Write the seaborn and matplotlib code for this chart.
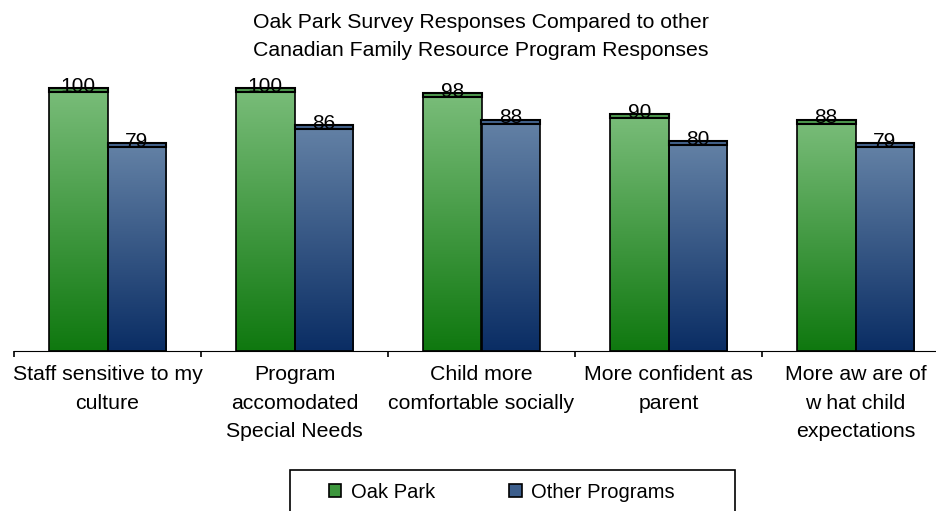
import pandas as pd
import seaborn as sns
import matplotlib.pyplot as plt
import numpy as np
from matplotlib.colors import LinearSegmentedColormap
from matplotlib.patches import Patch, Rectangle

categories = ["Staff sensitive to my\nculture",
              "Program\naccomodated\nSpecial Needs",
              "Child more\ncomfortable socially",
              "More confident as\nparent",
              "More aw are of\nw hat child\nexpectations"]
oak_park = [100, 100, 98, 90, 88]
other_programs = [79, 86, 88, 80, 79]
series = ["Oak Park", "Other Programs"]

df = pd.DataFrame({
    "item": categories * 2,
    "value": oak_park + other_programs,
    "program": [series[0]] * 5 + [series[1]] * 5,
})

sns.set_style("white")
plt.rcParams["font.family"] = ["Liberation Sans", "DejaVu Sans"]
plt.rcParams["text.color"] = "black"
plt.rcParams["xtick.color"] = "black"

# dark bottom -> light top
cmaps = [LinearSegmentedColormap.from_list("g", ["#0f780f", "#7abd7a"]),
         LinearSegmentedColormap.from_list("b", ["#0a2d64", "#6482a6"])]
caps = ["#4f9a4f", "#44648e"]
legend_cols = ["#3c963c", "#3c5e8c"]

fig = plt.figure(figsize=(9.37, 5.11), dpi=100)
ax = fig.add_axes([14 / 937, 160 / 511, 935 / 937, 289.3 / 511])

sns.barplot(data=df, x="item", y="value", hue="program", palette=["#3c963c", "#3c5e8c"],
            width=0.626, gap=0, ax=ax, legend=False, saturation=1)
ax.set_ylim(0, 110)
ax.set_xlim(-0.5, 4.5)

grad = np.linspace(0, 1, 256).reshape(-1, 1)
for cont, cm, cc in zip(ax.containers, cmaps, caps):
    for bar in cont:
        x, w, h = bar.get_x(), bar.get_width(), bar.get_height()
        bar.set_facecolor("none")
        bar.set_edgecolor("black")
        bar.set_linewidth(1.2)
        bar.set_zorder(3)
        im = ax.imshow(grad, cmap=cm, extent=[x, x + w, 0, h], origin="lower",
                       aspect="auto", zorder=2)
        im.set_clip_path(bar)
        ax.add_patch(Rectangle((x, h - 1.5), w, 1.5, facecolor=cc,
                               edgecolor="black", linewidth=1.5, zorder=4))
        ax.text(x + w / 2, h + 0.6, f"{h:.0f}", ha="center", va="center",
                fontsize=15, zorder=5)

for s in ["left", "top", "right"]:
    ax.spines[s].set_visible(False)
ax.spines["bottom"].set_color("black")
ax.set_yticks([])
ax.set_xlabel("")
ax.set_ylabel("")
ax.set_xticks(range(5))
ax.set_xticklabels(categories, fontsize=15.3, linespacing=1.65)
ax.set_xticks(np.arange(-0.5, 5, 1), minor=True)
ax.tick_params(axis="x", which="major", length=0, pad=10, bottom=True)
ax.tick_params(axis="x", which="minor", length=4, width=1.2, color="black",
               direction="out", bottom=True)

fig.text(481 / 937, 1 - 36 / 511,
         "Oak Park Survey Responses Compared to other\nCanadian Family Resource Program Responses",
         ha="center", va="center", fontsize=15.3, linespacing=1.6)

# legend box (runs off the bottom of the picture)
fig.patches.append(Rectangle((290 / 937, -0.05), 445 / 937, 0.05 + 41 / 511,
                             transform=fig.transFigure, facecolor="white",
                             edgecolor="black", linewidth=1.2, zorder=1))
handles = [Patch(facecolor=c, edgecolor="black", linewidth=1.2) for c in legend_cols]
leg = fig.legend(handles, series, loc="center left",
                 bbox_to_anchor=(329 / 937, 1 - 492 / 511),
                 ncol=2, frameon=False, fontsize=14.5,
                 handlelength=0.62, handleheight=0.62, handletextpad=0.45, columnspacing=3.7,
                 borderpad=0, borderaxespad=0)

fig.savefig("out.png", dpi=100)
